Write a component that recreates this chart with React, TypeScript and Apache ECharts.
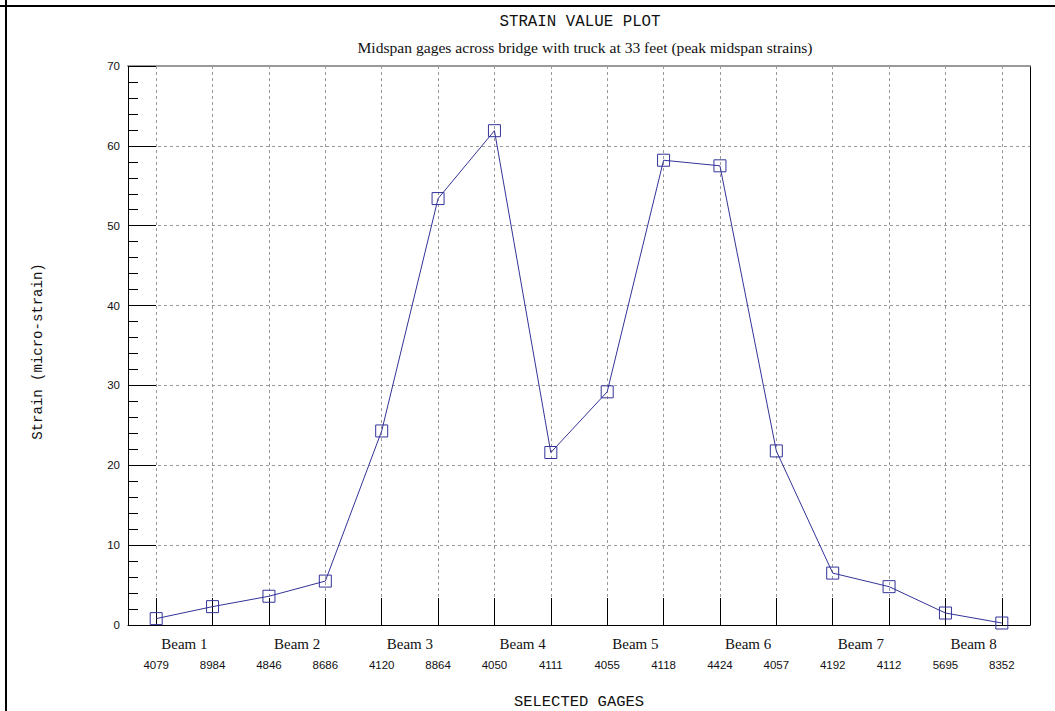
import React, { useEffect, useRef } from "react";
import * as echarts from "echarts";

const gages = ["4079", "8984", "4846", "8686", "4120", "8864", "4050", "4111", "4055", "4118", "4424", "4057", "4192", "4112", "5695", "8352"];
const beams = ["Beam 1", "Beam 2", "Beam 3", "Beam 4", "Beam 5", "Beam 6", "Beam 7", "Beam 8"];
const strain = [0.8, 2.3, 3.6, 5.5, 24.3, 53.4, 61.9, 21.6, 29.2, 58.2, 57.5, 21.8, 6.5, 4.8, 1.5, 0.25];
const yMin = 0;
const yMax = 70;
const yStep = 10;

const titleText = "STRAIN VALUE PLOT";
const subtitleText = "Midspan gages across bridge with truck at 33 feet (peak midspan strains)";
const yName = "Strain (micro-strain)";
const xName = "SELECTED GAGES";

const NAVY = "#333399";
const GRID = "#999999";
const INK = "#111111";

export default function App() {
  const ref = useRef<HTMLDivElement>(null);
  useEffect(() => {
    const chart = echarts.init(ref.current!, null, { renderer: "svg" });
    chart.setOption({
      animation: false,
      backgroundColor: "#ffffff",
      grid: { left: 128, right: 25, top: 66, bottom: 86, containLabel: false, outerBoundsMode: "none" },
      graphic: [
        { type: "line", shape: { x1: 0, y1: 6, x2: 1055, y2: 6 }, style: { stroke: "#000", lineWidth: 2 } },
        { type: "line", shape: { x1: 6, y1: 0, x2: 6, y2: 711 }, style: { stroke: "#000", lineWidth: 2 } },
        {
          type: "text", x: 580, y: 22,
          style: { text: titleText, font: '15.8px "Liberation Mono"', align: "center", verticalAlign: "middle", fill: INK },
        },
        {
          type: "text", x: 585, y: 47,
          style: { text: subtitleText, font: '15.6px "Liberation Serif"', align: "center", verticalAlign: "middle", fill: INK },
        },
      ],
      xAxis: [
        {
          type: "category",
          data: gages,
          position: "bottom",
          boundaryGap: true,
          axisLine: { show: true, lineStyle: { color: "#000", width: 1 } },
          axisTick: { show: true, inside: true, length: 27, alignWithLabel: true, lineStyle: { color: "#000" } },
          axisLabel: { margin: 34, fontFamily: "Liberation Sans", fontSize: 11.5, color: INK },
          splitLine: { show: true, alignWithLabel: true, lineStyle: { color: GRID, type: [3, 3], width: 1 } },
          name: xName,
          nameLocation: "middle",
          nameGap: 69,
          nameTextStyle: { fontFamily: "Liberation Mono", fontSize: 15.5, lineHeight: 16, color: INK },
        },
        {
          type: "category",
          data: beams,
          position: "bottom",
          boundaryGap: true,
          axisLine: { show: false },
          axisTick: { show: false },
          axisLabel: { margin: 11, fontFamily: "Liberation Serif", fontSize: 15, color: INK },
          splitLine: { show: false },
        },
        {
          type: "category",
          data: gages,
          position: "top",
          boundaryGap: true,
          axisLine: { show: true, lineStyle: { color: GRID, width: 2 } },
          axisTick: { show: false },
          axisLabel: { show: false },
          splitLine: { show: false },
        },
      ],
      yAxis: [
        {
          type: "value",
          min: yMin,
          max: yMax,
          interval: yStep,
          position: "left",
          axisLine: { show: true, lineStyle: { color: "#000", width: 1 } },
          axisTick: { show: true, inside: true, length: 28, lineStyle: { color: "#000" } },
          minorTick: { show: true, splitNumber: 5, length: 10, lineStyle: { color: "#000" } },
          axisLabel: { margin: 8, fontFamily: "Liberation Sans", fontSize: 11.5, color: INK },
          splitLine: { show: true, lineStyle: { color: GRID, type: [3, 3], width: 1 } },
          name: yName,
          nameLocation: "middle",
          nameGap: 83,
          nameRotate: 90,
          nameTextStyle: { fontFamily: "Liberation Mono", fontSize: 14, color: INK, padding: [0, 12, 0, 0] },
        },
        {
          type: "value",
          min: yMin,
          max: yMax,
          interval: yStep,
          position: "right",
          axisLine: { show: true, lineStyle: { color: "#000", width: 1 } },
          axisTick: { show: false },
          axisLabel: { show: false },
          splitLine: { show: false },
        },
      ],
      series: [
        {
          type: "line",
          xAxisIndex: 0,
          yAxisIndex: 0,
          data: strain,
          symbol: "rect",
          symbolSize: 12,
          clip: false,
          lineStyle: { color: NAVY, width: 1 },
          itemStyle: { color: "rgba(255,255,255,0)", borderColor: NAVY, borderWidth: 1 },
          z: 5,
        },
      ],
    });
    return () => chart.dispose();
  }, []);
  return (
    <div
      ref={ref}
      style={{ position: "fixed", left: 0, top: 0, width: 1055, height: 711, background: "#fff" }}
    />
  );
}
